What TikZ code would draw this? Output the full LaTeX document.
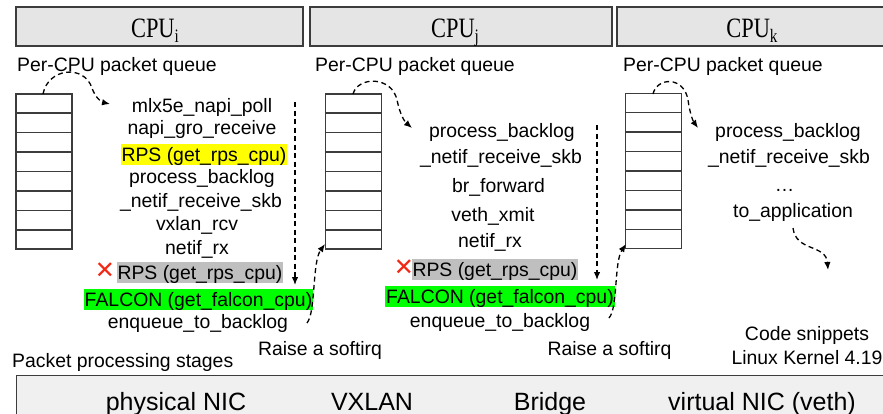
\documentclass[tikz,border=0pt]{standalone}
\usepackage{fontspec}
\setmainfont{Liberation Sans}
\newfontfamily\cpufont{Liberation Serif}
\newfontfamily\symfont{DejaVu Sans}
\usetikzlibrary{arrows.meta,calc}

\definecolor{rpsyellow}{RGB}{255,255,0}
\definecolor{falcongreen}{RGB}{0,255,0}
\definecolor{oldgray}{RGB}{191,191,191}
\definecolor{xred}{RGB}{240,40,20}
\definecolor{edge}{RGB}{60,60,60}

% CPU name with an upright subscript index
\newcommand\cpuname[1]{\scalebox{0.8}[1]{CPU\raisebox{-5.5pt}{\fontsize{19}{19}\selectfont #1}}}

\tikzset{
  cpubox/.style={draw=edge, line width=1.4pt, fill=black!10, minimum height=39pt, inner sep=0pt},
  cpulab/.style={anchor=base, inner sep=0pt, font=\cpufont\fontsize{28}{28}\selectfont},
  queue/.style={draw=edge, line width=1.3pt, fill=white, minimum width=56pt, minimum height=155pt, inner sep=0pt},
  cell/.style={draw=edge, line width=1.3pt},
  fn/.style={inner ysep=0pt, inner xsep=0.8pt, text height=17.5pt, text depth=3.5pt, font=\fontsize{19.4}{21}\selectfont},
  caption/.style={inner sep=0pt, anchor=base, font=\fontsize{19.4}{21}\selectfont},
  stage/.style={inner sep=0pt, anchor=base, font=\fontsize{25}{27}\selectfont},
  flow/.style={dash pattern=on 5pt off 3.5pt, line width=1.3pt, -{Latex[length=8pt,width=6.5pt]}},
  cross/.style={inner sep=0pt, text=xred, font=\symfont\fontsize{24}{24}\selectfont},
  stagebar/.style={draw=edge, line width=1.4pt, fill=black!6}
}

\begin{document}
\begin{tikzpicture}[x=1pt,y=-1pt]
\useasboundingbox (0,0) rectangle (883,413);
\clip (0,0) rectangle (883,413);

% ---- CPU headers
\node[cpubox, minimum width=287pt] (cpui) at (159.5,26.5) {};
\node[cpubox, minimum width=302pt] (cpuj) at (461,26.5) {};
\node[cpubox, minimum width=273pt] (cpuk) at (753.5,26.5) {};
\node[cpulab] (labi) at (155,37) {\cpuname{i}};
\node[cpulab] (labj) at (455,37) {\cpuname{j}};
\node[cpulab] (labk) at (752,37) {\cpuname{k}};

% ---- per-CPU packet queues
\node[caption, anchor=base west] (pq1) at (17,71) {Per-CPU packet queue};
\node[caption, anchor=base west] (pq2) at (315,71) {Per-CPU packet queue};
\node[caption, anchor=base west] (pq3) at (623,71) {Per-CPU packet queue};

\node[queue] (q1) at (44,171.5) {};
\node[queue] (q2) at (353.5,171.5) {};
\node[queue] (q3) at (653.5,171) {};
\foreach \q in {q1,q2,q3}{
  \foreach \k in {1,...,7}{
    \draw[cell] ($(\q.north west)!\k/8!(\q.south west)$) -- ($(\q.north east)!\k/8!(\q.south east)$);
  }
}

% ---- CPU i: physical NIC and VXLAN path
\node[fn] (a1) at (202,105) {mlx5e\_napi\_poll};
\node[fn] (a2) at (202,127) {napi\_gro\_receive};
\node[fn, fill=rpsyellow] (a3) at (204,154.5) {RPS (get\_rps\_cpu)};
\node[fn] (a4) at (202,176) {process\_backlog};
\node[fn] (a5) at (201,200) {\_netif\_receive\_skb};
\node[fn] (a6) at (197,223) {vxlan\_rcv};
\node[fn] (a7) at (197,247) {netif\_rx};
\node[fn, fill=oldgray] (a8) at (200,272) {RPS (get\_rps\_cpu)};
\node[cross] (x1) at (105,271) {✕};
\node[fn, fill=falcongreen] (a9) at (198.5,299.5) {FALCON (get\_falcon\_cpu)};
\node[fn] (a10) at (198,321) {enqueue\_to\_backlog};

% ---- CPU j: bridge and veth path
\node[fn] (b1) at (502,130) {process\_backlog};
\node[fn] (b2) at (501,156) {\_netif\_receive\_skb};
\node[fn] (b3) at (498.5,185) {br\_forward};
\node[fn] (b4) at (493,214) {veth\_xmit};
\node[fn] (b5) at (490,240) {netif\_rx};
\node[fn, fill=oldgray] (b6) at (495,269) {RPS (get\_rps\_cpu)};
\node[cross] (x2) at (404,268) {✕};
\node[fn, fill=falcongreen] (b7) at (500,296.5) {FALCON (get\_falcon\_cpu)};
\node[fn] (b8) at (500,320) {enqueue\_to\_backlog};

% ---- CPU k: delivery to the application
\node[fn] (c1) at (788,130) {process\_backlog};
\node[fn] (c2) at (789,156) {\_netif\_receive\_skb};
\node[fn] (c3) at (784.5,184) {…};
\node[fn] (c4) at (793,210) {to\_application};

% ---- notes
\node[caption] (r1) at (320,355) {Raise a softirq};
\node[caption] (r2) at (609.5,355) {Raise a softirq};
\node[caption, anchor=base west] (pps) at (12,367.3) {Packet processing stages};
\node[caption] (cs1) at (807,340) {Code snippets};
\node[caption] (cs2) at (807,364) {Linux Kernel 4.19};

% ---- stage bar
\node[stagebar, anchor=north west, minimum width=900pt, minimum height=60pt, inner sep=0pt] (bar) at (16,375) {};
\node[stage] (s1) at (176,410.5) {physical NIC};
\node[stage] (s2) at (372,410.5) {VXLAN};
\node[stage] (s3) at (550,410.5) {Bridge};
\node[stage] (s4) at (762,410.5) {virtual NIC (veth)};

% ---- dequeue arrows from each queue
\coordinate (q1out) at (43,94);
\coordinate (a1in) at (110,104);
\draw[flow] (q1out) .. controls (48,68) and (84,64) .. (92,88) .. controls (95,97) and (101,102) .. (a1in);
\coordinate (q2out) at (353,94);
\coordinate (b1in) at (412,128);
\draw[flow] (q2out) .. controls (358,76) and (392,76) .. (397,100) .. controls (400,114) and (404,121) .. (b1in);
\coordinate (q3out) at (653,94);
\coordinate (c1in) at (698,128);
\draw[flow] (q3out) .. controls (657,77) and (684,76) .. (688,100) .. controls (690,114) and (693,121) .. (c1in);

% ---- processing flow down each column
\coordinate (vi0) at (295,102);
\coordinate (vi1) at (295,285);
\draw[flow] (vi0) -- (vi1);
\coordinate (vj0) at (597,125);
\coordinate (vj1) at (597,280);
\draw[flow] (vj0) -- (vj1);
\coordinate (c4out) at (793,228);
\coordinate (appin) at (828,270);
\draw[flow] (c4out) .. controls (796,252) and (826,244) .. (appin);

% ---- softirq hand-off to the next queue
\coordinate (a10out) at (307,323);
\coordinate (q2in) at (325,244);
\draw[flow] (a10out) .. controls (316,312) and (312,262) .. (q2in);
\coordinate (b8out) at (609,318);
\coordinate (q3in) at (626,244);
\draw[flow] (b8out) .. controls (618,308) and (614,262) .. (q3in);
\end{tikzpicture}
\end{document}
